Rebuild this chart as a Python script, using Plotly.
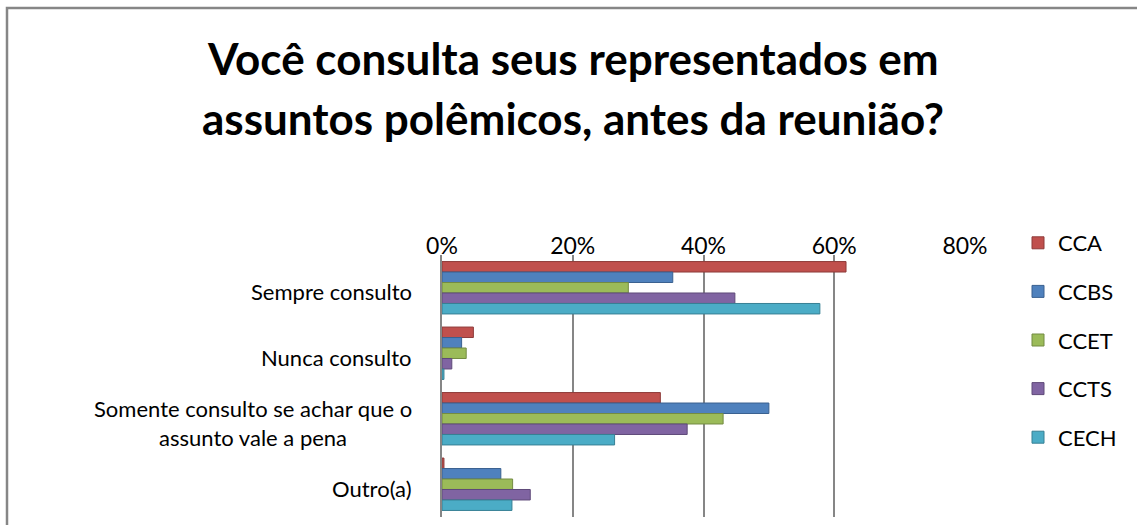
import plotly.graph_objects as go

categories = ["Sempre consulto", "Nunca consulto",
              "Somente consulto se achar que o<br>assunto vale a pena", "Outro(a)"]
series_names = ["CCA", "CCBS", "CCET", "CCTS", "CECH"]
cca = [0.618, 0.048, 0.334, 0.003]
ccbs = [0.353, 0.030, 0.500, 0.090]
ccet = [0.285, 0.037, 0.430, 0.108]
ccts = [0.448, 0.015, 0.375, 0.135]
cech = [0.578, 0.003, 0.264, 0.107]
tick_vals = [0, 0.2, 0.4, 0.6, 0.8]
tick_text = ["0%", "20%", "40%", "60%", "80%"]

colors = ["#C0504D", "#4F81BD", "#9BBB59", "#8064A2", "#4BACC6"]
edges = ["#8E3B39", "#3A6190", "#738B42", "#5F4A79", "#378094"]
values = [cca, ccbs, ccet, ccts, cech]

W, H = 1137, 525
L, R, T, B = 442, 172, 255, 8
pw, ph = W - L - R, H - T - B

fig = go.Figure()
for name, vals, c, e in zip(series_names, values, colors, edges):
    fig.add_trace(go.Bar(
        y=categories, x=vals, name=name, orientation="h",
        marker=dict(color=c, line=dict(color=e, width=1)),
        legendgroup=name,
    ))

font = "Lato, 'Open Sans', sans-serif"
annotations = []
for cat in categories:
    annotations.append(dict(
        x=(414 - L) / pw, xref="paper", y=cat, yref="y",
        text=cat, showarrow=False, xanchor="right", yanchor="middle",
        yshift=-4, align="center", font=dict(family=font, size=22, color="#000000"),
    ))
title_lines = ["Você consulta seus representados em",
               "assuntos polêmicos, antes da reunião?"]
for i, line in enumerate(title_lines):
    ypx = 58 + 60 * i
    annotations.append(dict(
        x=(573 - L) / pw, xref="paper", y=1 + (T - ypx) / ph, yref="paper",
        text="<b>" + line + "</b>", showarrow=False, xanchor="center", yanchor="middle",
        font=dict(family=font, size=44, color="#000000"),
    ))

fig.update_layout(
    width=W, height=H,
    margin=dict(l=L, r=R, t=T, b=B, autoexpand=False),
    paper_bgcolor="white", plot_bgcolor="white",
    barmode="group", bargap=0.2, bargroupgap=0.0,
    showlegend=True,
    legend=dict(x=(1018 - L) / pw, xanchor="left", y=1 + (T - 222) / ph, yanchor="top",
                font=dict(family=font, size=22, color="#000000"),
                tracegroupgap=17, bgcolor="rgba(0,0,0,0)"),
    xaxis=dict(side="top", range=[0, 0.8], tickvals=tick_vals, ticktext=tick_text,
               showgrid=True, gridcolor="#868686", gridwidth=2, zeroline=False,
               showline=False, ticks="", ticklabelstandoff=-5,
               tickfont=dict(family=font, size=23, color="#000000")),
    yaxis=dict(autorange="reversed", showticklabels=False, showgrid=False,
               showline=True, linecolor="#868686", linewidth=2, zeroline=False, ticks=""),
    annotations=annotations,
    shapes=[dict(type="rect", xref="paper", yref="paper",
                 x0=(7 - L) / pw, x1=(W + 20 - L) / pw,
                 y0=1 + (T - (H + 20)) / ph, y1=1 + (T - 8) / ph,
                 line=dict(color="#868686", width=2.5), fillcolor="rgba(0,0,0,0)",
                 layer="below")],
)

fig.write_html("out.html", config={"displayModeBar": False},
               post_script="document.body.style.margin='0';document.body.style.padding='0';")
